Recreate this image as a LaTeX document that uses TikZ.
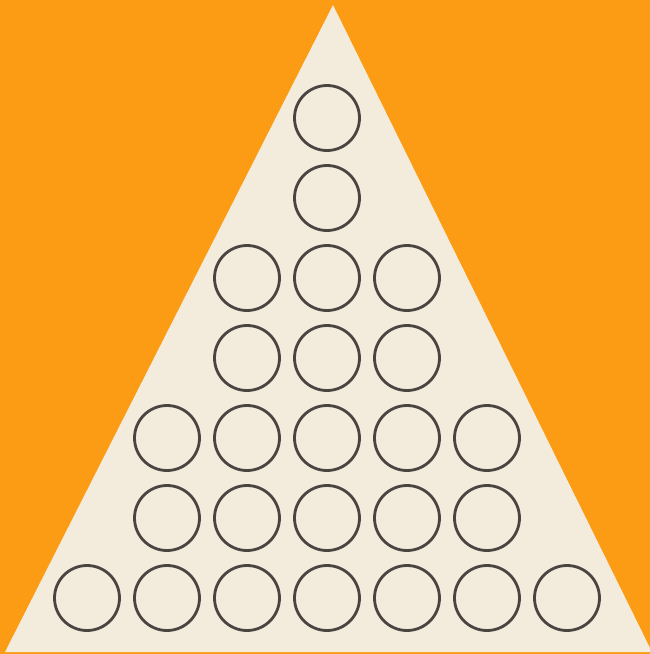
\documentclass[tikz,border=0pt]{standalone}
\usepackage{tikz}
\usepackage{xcolor}
\definecolor{backdrop}{HTML}{FC9C15}
\definecolor{board}{HTML}{F3EBDB}
\definecolor{ink}{HTML}{4A4541}
\tikzset{
  hole/.style={circle,draw=ink,line width=1.6pt,fill=none,minimum size=1.3cm,inner sep=0pt},
  boardface/.style={fill=board,draw=none},
}

\begin{document}
\begin{tikzpicture}[x=0.02cm,y=-0.02cm]
  \fill[backdrop] (0,0) rectangle (650,654);
  \useasboundingbox (0,0) rectangle (650,654);
  \coordinate (apex) at (333,5);
  \coordinate (baseL) at (5,652);
  \coordinate (baseR) at (652,652);
  \fill[boardface] (apex) -- (baseR) -- (baseL) -- cycle;

  % rows of holes, top to bottom: row number / half-width
  \foreach \r/\w in {1/0,2/0,3/1,4/1,5/2,6/2,7/3}{
    \foreach \c in {-\w,...,\w}{
      \node[hole] (hole-\r-\c) at ({327+80*\c},{38+80*\r}) {};
    }
  }
\end{tikzpicture}
\end{document}
